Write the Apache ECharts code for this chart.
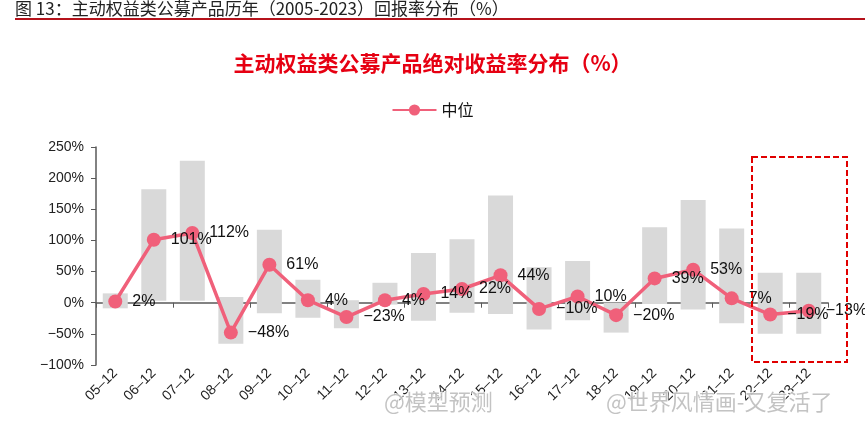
<!DOCTYPE html>
<html><head><meta charset="utf-8">
<script src="https://cdn.jsdelivr.net/npm/echarts@6/dist/echarts.min.js"></script>
<style>html,body{margin:0;padding:0;background:#fff}#c{width:865px;height:425px}</style>
</head><body><div id="c"></div>
<script>
var categories = ['05-12','06-12','07-12','08-12','09-12','10-12','11-12','12-12','13-12','14-12','15-12','16-12','17-12','18-12','19-12','20-12','21-12','22-12','23-12'];
var medianValues = [2, 101, 112, -48, 61, 4, -23, 4, 14, 22, 44, -10, 10, -20, 39, 53, 7, -19, -13];
var rangeMin = [-9, 3, 3, -66, -17, -24, -41, -3, -29, -16, -18, -43, -28, -48, -2, -11, -33, -50, -50];
var rangeMax = [15, 182, 228, 9, 117, 37, 4, 32, 80, 102, 172, 57, 67, 0, 121, 165, 119, 48, 48];
var yTicks = [-100, -50, 0, 50, 100, 150, 200, 250];

var rangeSpan = rangeMax.map(function(v, i){ return v - rangeMin[i]; });
var chart = echarts.init(document.getElementById('c'));
var FONT = 'Liberation Sans, Arial, sans-serif';
var CJK = '"Noto Sans CJK SC", sans-serif';
function minusFmt(v){ return (v < 0 ? '\u2212' + Math.abs(v) : v) + '%'; }

chart.setOption({
  animation: false,
  backgroundColor: '#fff',
  title: {
    text: '主动权益类公募产品绝对收益率分布（%）',
    left: 'center', top: 48,
    textStyle: { color: '#e60012', fontSize: 21, fontWeight: 'bold', fontFamily: CJK }
  },
  legend: {
    data: ['中位'],
    top: 97, left: 'center',
    itemWidth: 44, itemHeight: 14,
    textStyle: { fontSize: 16, color: '#111', fontFamily: CJK }
  },
  grid: { left: 96, right: 37, top: 147, bottom: 60, containLabel: false },
  xAxis: [{
    type: 'category', data: categories, boundaryGap: true,
    axisLine: { onZero: true, lineStyle: { color: '#595959', width: 1.5 } },
    axisTick: { show: true, length: 5, lineStyle: { color: '#595959' } },
    axisLabel: { show: false }
  }, {
    type: 'category', data: categories, boundaryGap: true, position: 'bottom',
    axisLine: { show: false, onZero: false }, axisTick: { show: false },
    axisLabel: { rotate: 45, fontSize: 14, color: '#222', fontFamily: FONT, margin: 6, interval: 0,
      formatter: function(v){ return v.replace('-', '\u2013'); } }
  }],
  yAxis: {
    type: 'value', min: yTicks[0], max: yTicks[yTicks.length-1], interval: 50,
    axisLine: { show: true, lineStyle: { color: '#595959', width: 1.5 } },
    axisTick: { show: true, length: 5, lineStyle: { color: '#595959' } },
    splitLine: { show: false },
    axisLabel: { fontSize: 14, color: '#222', fontFamily: FONT, margin: 12, formatter: minusFmt }
  },
  series: [{
    name: 'base', type: 'bar', stack: 'r', stackStrategy: 'all', data: rangeMin, barWidth: 25,
    itemStyle: { color: 'rgba(0,0,0,0)' }, silent: true, z: 1
  }, {
    name: 'range', type: 'bar', stack: 'r', stackStrategy: 'all', data: rangeSpan, barWidth: 25,
    itemStyle: { color: '#d9d9d9' }, z: 1
  }, {
    name: '中位', type: 'line', data: medianValues, z: 5,
    symbol: 'circle', symbolSize: 14,
    lineStyle: { color: '#f0607a', width: 3.5 },
    itemStyle: { color: '#f0607a' },
    label: { show: true, position: 'right', distance: 10, fontSize: 16, color: '#111', fontFamily: FONT, formatter: function(p){ return minusFmt(p.value); } }
  }],
  graphic: [
    { type: 'text', left: 15, top: 0, style: { text: '图 13：主动权益类公募产品历年（2005-2023）回报率分布（%）', fontSize: 17, fill: '#222', fontFamily: CJK } },
    { type: 'rect', shape: { x: 15, y: 18, width: 850, height: 2 }, style: { fill: '#b5121b' } },
    { type: 'rect', shape: { x: 752, y: 157, width: 95, height: 205 }, style: { fill: 'none', stroke: '#e00000', lineWidth: 2, lineDash: [6, 3] }, z: 10 },
    { type: 'text', left: 383, top: 390, z: 20, style: { text: '@模型预测', fontSize: 22, fill: 'rgba(175,175,175,0.75)', stroke: 'rgba(255,255,255,0.8)', lineWidth: 2, fontFamily: CJK } },
    { type: 'text', left: 605, top: 390, z: 20, style: { text: '@世界风情画-又复活了', fontSize: 22, fill: 'rgba(175,175,175,0.75)', stroke: 'rgba(255,255,255,0.8)', lineWidth: 2, fontFamily: CJK } }
  ]
});
</script></body></html>
